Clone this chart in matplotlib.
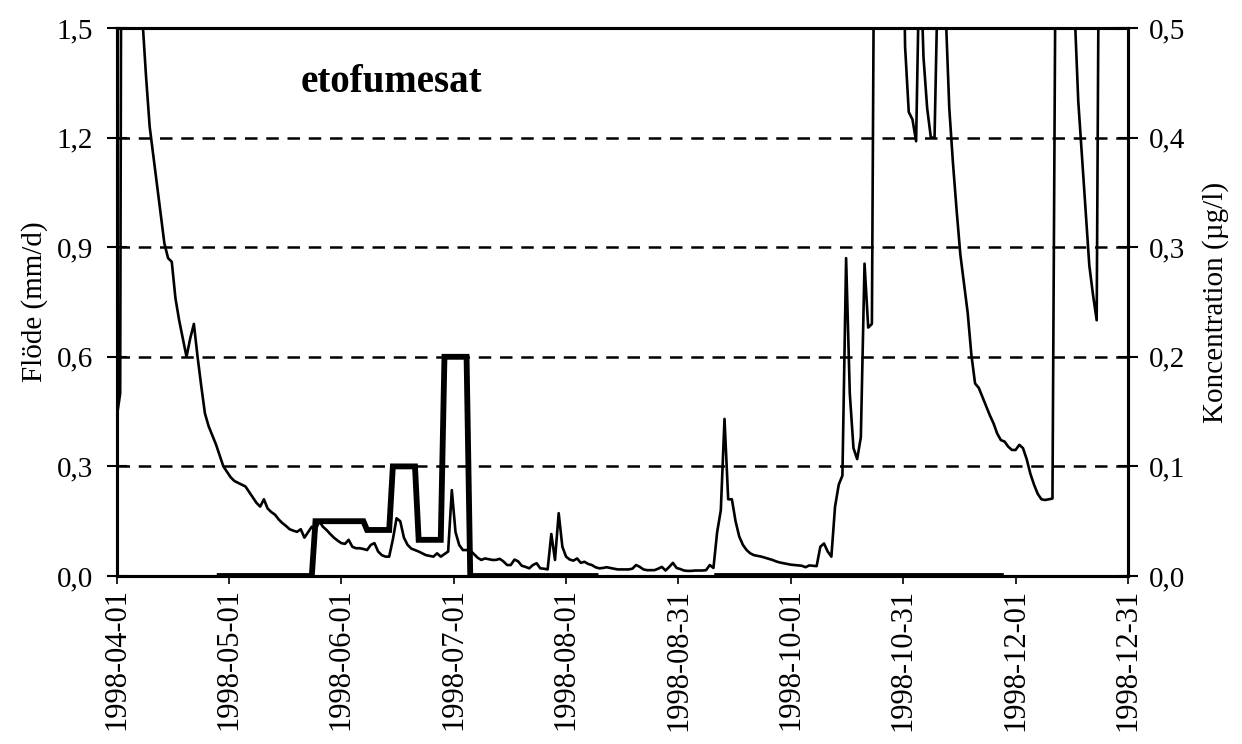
import matplotlib
matplotlib.use("Agg")
import matplotlib.pyplot as plt
import matplotlib.dates as mdates
import numpy as np
import pandas as pd

# ---------------- data ----------------
start_date = "1998-04-01"

# Flow (mm/d): day offset from 1998-04-01 and value
flow_day = [0, 1, 2, 3, 4, 5, 6, 7, 8, 9, 10, 11, 12, 13, 14, 15, 16, 17, 18, 19,
            20, 21, 22, 23, 24, 25, 26, 27, 28, 29, 30, 31, 32, 33, 34, 35, 36, 37, 38, 39,
            40, 41, 42, 43, 44, 45, 46, 47, 48, 49, 50, 51, 52, 53, 54, 55, 56, 57, 58, 59,
            60, 61, 62, 63, 64, 65, 66, 67, 68, 69, 70, 71, 72, 73, 74, 75, 76, 77, 78, 79,
            80, 81, 82, 83, 84, 85, 86, 87, 88, 89, 90, 91, 92, 93, 94, 95, 96, 97, 98, 99,
            100, 101, 102, 103, 104, 105, 106, 107, 108, 109, 110, 111, 112, 113, 114, 115, 116, 117, 118, 119,
            120, 121, 122, 123, 124, 125, 126, 127, 128, 129, 130, 131, 132, 133, 134, 135, 136, 137, 138, 139,
            140, 141, 142, 143, 144, 145, 146, 147, 148, 149, 150, 151, 152, 153, 154, 155, 156, 157, 158, 159,
            160, 161, 162, 163, 164, 165, 166, 167, 168, 169, 170, 171, 172, 173, 174, 175, 176, 177, 178, 179,
            180, 181, 182, 183, 184, 185, 186, 187, 188, 189, 190, 191, 192, 193, 194, 195, 196, 197, 198, 199,
            200, 201, 202, 203, 204, 205, 206, 207, 208, 209, 210, 211, 212, 213, 214, 215, 216, 217, 218, 219,
            220, 221, 222, 223, 224, 225, 226, 227, 228, 229, 230, 231, 232, 233, 234, 235, 236, 237, 238, 239,
            240, 241, 242, 243, 244, 245, 246, 247, 248, 249, 250, 251, 252, 253, 254, 255, 256, 257, 258, 259,
            260, 261, 262, 263, 264, 265, 266, 267, 268, 269, 270, 271, 272, 273, 274]
flow_val = [0.43, 0.50, 5.0, 3.2, 2.8, 2.3, 1.9, 1.53, 1.37, 1.23, 1.15, 1.07, 0.99, 0.91, 0.87, 0.86, 0.76, 0.70, 0.65, 0.60,
            0.65, 0.69, 0.60, 0.52, 0.445, 0.41, 0.385, 0.36, 0.33, 0.30, 0.285, 0.27, 0.26, 0.255, 0.25, 0.245, 0.23, 0.215, 0.20, 0.19,
            0.21, 0.185, 0.175, 0.168, 0.155, 0.145, 0.137, 0.128, 0.124, 0.121, 0.128, 0.105, 0.12, 0.135, 0.125, 0.15, 0.135, 0.126, 0.115, 0.105,
            0.097, 0.09, 0.088, 0.099, 0.08, 0.076, 0.076, 0.074, 0.071, 0.085, 0.09, 0.067, 0.057, 0.053, 0.053, 0.10, 0.158, 0.15, 0.105, 0.085,
            0.075, 0.071, 0.067, 0.062, 0.057, 0.055, 0.053, 0.062, 0.053, 0.06, 0.067, 0.235, 0.12, 0.085, 0.071, 0.071, 0.07, 0.06, 0.05, 0.044,
            0.048, 0.046, 0.044, 0.044, 0.047, 0.04, 0.03, 0.03, 0.045, 0.04, 0.028, 0.025, 0.021, 0.03, 0.035, 0.021, 0.02, 0.018, 0.115, 0.044,
            0.172, 0.08, 0.053, 0.045, 0.042, 0.048, 0.036, 0.039, 0.033, 0.03, 0.024, 0.021, 0.022, 0.024, 0.022, 0.02, 0.018, 0.018, 0.018, 0.018,
            0.02, 0.03, 0.025, 0.018, 0.016, 0.016, 0.016, 0.02, 0.025, 0.015, 0.025, 0.036, 0.022, 0.019, 0.015, 0.014, 0.014, 0.015, 0.015, 0.015,
            0.016, 0.03, 0.022, 0.12, 0.18, 0.43, 0.21, 0.21, 0.15, 0.108, 0.085, 0.071, 0.062, 0.057, 0.055, 0.053, 0.05, 0.047, 0.044, 0.04,
            0.037, 0.035, 0.033, 0.031, 0.030, 0.029, 0.028, 0.024, 0.029, 0.028, 0.027, 0.08, 0.089, 0.067, 0.053, 0.19, 0.25, 0.275, 0.87, 0.50,
            0.35, 0.32, 0.38, 0.855, 0.68, 0.69, 2.5, 3.0, 3.2, 3.0, 2.8, 2.6, 2.4, 2.2, 1.45, 1.27, 1.25, 1.19, 1.75, 1.42,
            1.28, 1.20, 1.20, 1.70, 2.00, 1.55, 1.28, 1.13, 1.00, 0.88, 0.80, 0.72, 0.605, 0.527, 0.515, 0.49, 0.465, 0.44, 0.418, 0.39,
            0.372, 0.368, 0.354, 0.345, 0.345, 0.359, 0.35, 0.32, 0.28, 0.25, 0.225, 0.21, 0.208, 0.21, 0.212, 2.0, 2.4, 2.4, 2.2, 1.9,
            1.55, 1.30, 1.15, 1.00, 0.85, 0.77, 0.70, 2.5, 3.0, 3.0, 2.8, 2.6, 2.5, 2.4, 2.3]

# Concentration (ug/l): change points (day offset, value); NaN = no data
conc_day = [28, 53, 54, 67, 68, 74, 75, 81, 82, 88, 89, 95, 96, 130, 131,
            163, 240]
conc_val = [0.0, 0.0, 0.05, 0.05, 0.042, 0.042, 0.10, 0.10, 0.033, 0.033, 0.20, 0.20, 0.0, 0.0, np.nan,
            0.0, 0.0]

tick_labels = ["1998-04-01", "1998-05-01", "1998-06-01", "1998-07-01", "1998-08-01",
               "1998-08-31", "1998-10-01", "1998-10-31", "1998-12-01", "1998-12-31"]
flow_ticks = [0.0, 0.3, 0.6, 0.9, 1.2, 1.5]
conc_ticks = [0.0, 0.1, 0.2, 0.3, 0.4, 0.5]

title = "etofumesat"
left_label = "Flöde (mm/d)"
right_label = "Koncentration (µg/l)"

# ---------------- plot ----------------
plt.rcParams['font.family'] = ['Liberation Serif', 'DejaVu Serif']

t0 = pd.Timestamp(start_date)
flow_dates = [t0 + pd.Timedelta(days=d) for d in flow_day]
conc_dates = [t0 + pd.Timedelta(days=d) for d in conc_day]

fig = plt.figure(figsize=(12.42, 7.44), dpi=100)
ax = fig.add_axes([116.5 / 1242, 1 - 576 / 744, (1128 - 116.5) / 1242, (576 - 28) / 744])
ax2 = ax.twinx()

ax.plot(flow_dates, flow_val, color="black", lw=1.9, zorder=3)
ax2.plot(conc_dates, conc_val, color="black", lw=4.2, solid_joinstyle="miter", zorder=3)

x0 = mdates.date2num(t0)
ax.set_xlim(x0, x0 + 274.5)
ax.set_ylim(0, 1.5)
ax2.set_ylim(0, 0.5)

xt = [x0 + 30.5 * i for i in range(len(tick_labels))]
ax.set_xticks(xt)
ax.set_xticklabels(tick_labels, rotation=90, fontsize=22)

ax.set_yticks(flow_ticks)
ax.set_yticklabels([f"{v:.1f}".replace(".", ",") for v in flow_ticks], fontsize=21)
ax2.set_yticks(conc_ticks)
ax2.set_yticklabels([f"{v:.1f}".replace(".", ",") for v in conc_ticks], fontsize=21)

for v in flow_ticks[1:-1]:
    ax.axhline(v, color="black", lw=1.8, ls=(0, (5, 3.5)), zorder=1)

ax.tick_params(axis="y", direction="inout", length=14, width=1.5, pad=10)
ax2.tick_params(axis="y", direction="inout", length=14, width=1.5, pad=8)
ax.tick_params(axis="x", direction="out", length=6, width=1.2, pad=3)

for a in (ax, ax2):
    for s in a.spines.values():
        s.set_linewidth(2.2)
        s.set_color("black")

ax.set_ylabel(left_label, fontsize=21, labelpad=6)
ax2.set_ylabel(right_label, fontsize=21, labelpad=12)

ax.text(0.182, 0.90, title, transform=ax.transAxes, fontsize=28, fontweight="bold",
        ha="left", va="center")

fig.savefig("out.png", dpi=100, facecolor="white")
